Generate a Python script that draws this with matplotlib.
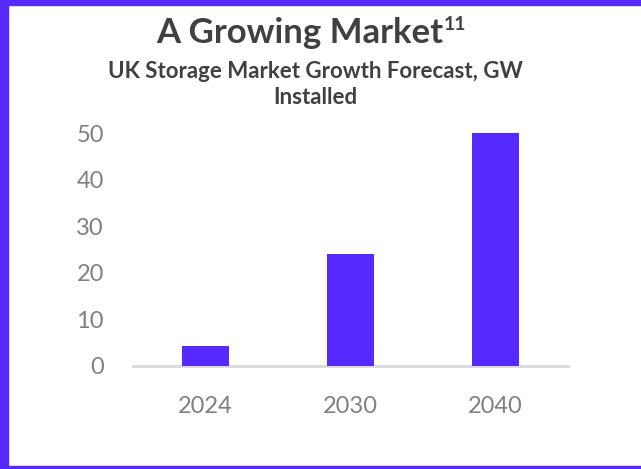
import matplotlib
matplotlib.use("Agg")
import matplotlib.pyplot as plt
from matplotlib.patches import Rectangle

# Installed storage capacity, GW
years = ["2024", "2030", "2040"]
capacity_gw = [4.3, 24, 50]
y_ticks = [0, 10, 20, 30, 40, 50]

purple = "#5629FF"
dark = "#404040"
grey = "#808080"

plt.rcParams["font.family"] = ["Lato", "DejaVu Sans"]

fig = plt.figure(figsize=(6.41, 4.69), dpi=100)

# purple frame on the left, top and bottom edges
fig.patches.append(Rectangle((0, 0), 8 / 641, 1, transform=fig.transFigure, color=purple, zorder=0))
fig.patches.append(Rectangle((0, 1 - 5 / 469), 1, 5 / 469, transform=fig.transFigure, color=purple, zorder=0))
fig.patches.append(Rectangle((0, 0), 1, 3 / 469, transform=fig.transFigure, color=purple, zorder=0))

ax = fig.add_axes([0.2075, 0.2203, 0.6786, 0.5156])
x = range(len(years))
ax.bar(x, capacity_gw, width=0.32, color=purple, zorder=3)

ax.set_xlim(-0.5, 2.5)
ax.set_ylim(0, 52)
ax.set_xticks(list(x))
ax.set_xticklabels(years)
ax.set_yticks(y_ticks)
ax.tick_params(axis="both", length=0, labelsize=17, labelcolor=grey)
ax.tick_params(axis="x", pad=22)
ax.tick_params(axis="y", pad=21)
for side in ["top", "right", "left"]:
    ax.spines[side].set_visible(False)
ax.spines["bottom"].set_color("#d9d9d9")
ax.spines["bottom"].set_linewidth(2)

# titles
title = fig.text(0.467, 1 - 33 / 469, "A Growing Market", ha="center", va="center",
                 fontsize=25, fontweight="bold", color=dark)
fig.canvas.draw()
bb = title.get_window_extent()
fig.text(bb.x1 / 641 + 0.002, 1 - 25 / 469, "11", ha="left", va="center",
         fontsize=14, fontweight="bold", color=dark)
fig.text(0.492, 1 - 72 / 469, "UK Storage Market Growth Forecast, GW", ha="center", va="center",
         fontsize=16, fontweight="bold", color=dark)
fig.text(0.492, 1 - 98 / 469, "Installed", ha="center", va="center",
         fontsize=16, fontweight="bold", color=dark)

fig.savefig("out.png", dpi=100)
